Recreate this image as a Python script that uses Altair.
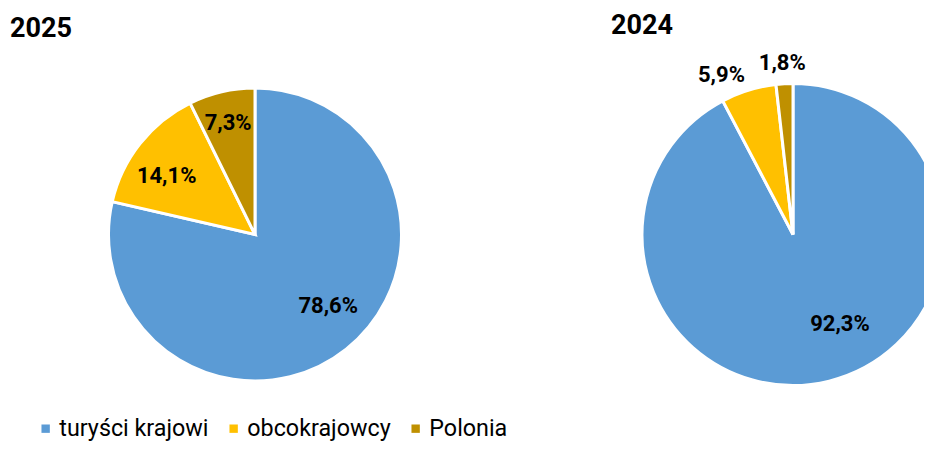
import altair as alt
import pandas as pd

# ---- data ----
categories = ["turyści krajowi", "obcokrajowcy", "Polonia"]
years = ["2025", "2024"]
share_2025 = [78.6, 14.1, 7.3]
share_2024 = [92.3, 5.9, 1.8]
colors = ["#5B9BD5", "#FFC000", "#BF9000"]

rows = []
for year, shares in zip(years, [share_2025, share_2024]):
    for i, (cat, v) in enumerate(zip(categories, shares)):
        rows.append({
            "year": year,
            "category": cat,
            "value": v,
            "order": i,
            "label": f"{v:.1f}".replace(".", ",") + "%",
        })
df = pd.DataFrame(rows)
titles = pd.DataFrame({"year": years})

# ---- styling / layout ----
FONT = "Roboto"
pie_geom = {"2025": (247, 226.5, 146.5), "2024": (785, 226.5, 151)}
title_pos = {"2025": (2, 29), "2024": (603, 26)}
# (radius, dx, dy) per label
label_style = {
    ("2025", "turyści krajowi"): (103, 9, -9),
    ("2025", "obcokrajowcy"): (105, -6, 7),
    ("2025", "Polonia"): (114, -1, 0),
    ("2024", "turyści krajowi"): (100, 23, -8),
    ("2024", "obcokrajowcy"): (172, -21, 5),
    ("2024", "Polonia"): (172, -1, 0),
}

base = alt.Chart(df)
color = alt.Color(
    "category:N",
    scale=alt.Scale(domain=categories, range=colors),
    sort=categories,
    legend=alt.Legend(
        title=None,
        orient="none",
        legendX=26,
        legendY=409,
        direction="horizontal",
        symbolType="square",
        symbolSize=70,
        symbolStrokeWidth=0,
        labelFont=FONT,
        labelFontSize=23.3,
        labelColor="#000000",
        labelOffset=2,
        columnPadding=13,
        padding=0,
        labelLimit=0,
    ),
)

layers = []
for year in years:
    cx, cy, r = pie_geom[year]
    arc = (
        base.transform_filter(alt.datum.year == year)
        .mark_arc(radius=r, stroke="white", strokeWidth=3)
        .encode(
            theta=alt.Theta("value:Q", stack=True),
            order=alt.Order("order:Q", sort="ascending"),
            color=color,
            x=alt.value(cx),
            y=alt.value(cy),
        )
    )
    layers.append(arc)

for year in years:
    cx, cy, r = pie_geom[year]
    for cat in categories:
        rad, dx, dy = label_style[(year, cat)]
        txt = (
            base.transform_filter(alt.datum.year == year)
            .mark_text(
                radius=rad, dx=dx, dy=dy, font=FONT, fontSize=22,
                fontWeight="bold", color="#000000",
                align="center", baseline="middle",
            )
            .encode(
                theta=alt.Theta("value:Q", stack=True),
                order=alt.Order("order:Q", sort="ascending"),
                text=alt.condition(alt.datum.category == cat, "label:N", alt.value("")),
                x=alt.value(cx),
                y=alt.value(cy),
            )
        )
        layers.append(txt)

for year in years:
    tx, ty = title_pos[year]
    t = (
        alt.Chart(titles)
        .transform_filter(alt.datum.year == year)
        .mark_text(font=FONT, fontSize=27, fontWeight="bold", color="#000000",
                   align="left", baseline="alphabetic")
        .encode(x=alt.value(tx), y=alt.value(ty), text="year:N")
    )
    layers.append(t)

chart = (
    alt.layer(*layers)
    .properties(width=916, height=436, padding=0,
                autosize=alt.AutoSizeParams(type="none"))
    .configure_view(stroke=None)
)

chart.save("out.html", embed_options={"renderer": "svg", "actions": False})
